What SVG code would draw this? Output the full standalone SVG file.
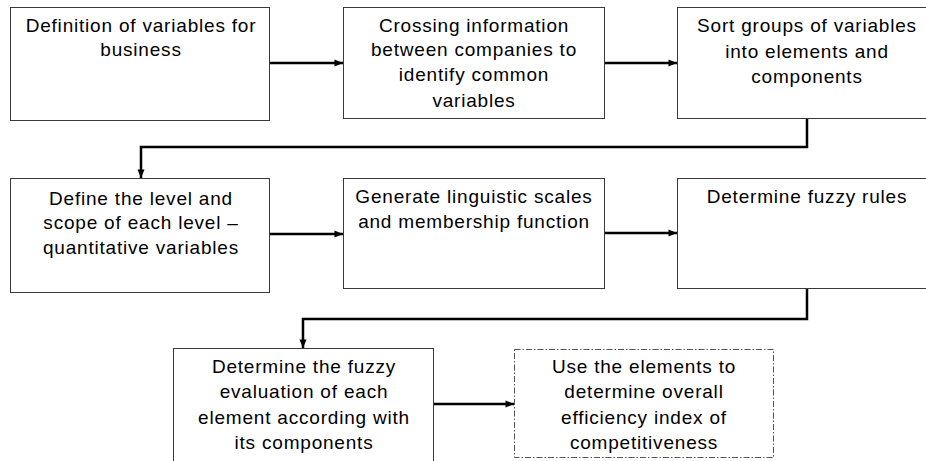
<svg xmlns="http://www.w3.org/2000/svg" width="926" height="461" viewBox="0 0 926 461">
<defs>
<marker id="ah" markerUnits="userSpaceOnUse" markerWidth="10" markerHeight="10" viewBox="0 0 10 10" refX="9" refY="5" orient="auto">
<path d="M0.5,1.5 L9,5 L0.5,8.5 Z" fill="#000"/>
</marker>
<style>
.box{fill:#fff;stroke:#3a3a3a;stroke-width:1}
.dash{fill:#fff;stroke:#555;stroke-width:1;stroke-dasharray:6 2 1.5 2}
.t{font-family:"Liberation Sans",Arial,sans-serif;font-size:19px;letter-spacing:0.8px;fill:#000;text-anchor:middle}
.c{fill:none;stroke:#000;stroke-width:2.5;marker-end:url(#ah)}
</style>
</defs>
<rect width="926" height="461" fill="#fff"/>
<g id="connectors">
<path class="c" d="M269 63 H343"/>
<path class="c" d="M604 63 H677"/>
<path class="c" d="M807 118 V147 H141 V178"/>
<path class="c" d="M269 234 H343"/>
<path class="c" d="M604 233 H677"/>
<path class="c" d="M807 288 V319 H303 V348"/>
<path class="c" d="M433 404 H514"/>
</g>
<g id="n1">
<rect class="box" x="10.5" y="7.5" width="259" height="113"/>
<text class="t" x="141" y="32">Definition of variables for</text>
<text class="t" x="141" y="56">business</text>
</g>
<g id="n2">
<rect class="box" x="343.5" y="7.5" width="261" height="111"/>
<text class="t" x="474" y="32">Crossing information</text>
<text class="t" x="474" y="56">between companies to</text>
<text class="t" x="474" y="81">identify common</text>
<text class="t" x="474" y="107">variables</text>
</g>
<g id="n3">
<rect class="box" x="677.5" y="7.5" width="260" height="111"/>
<text class="t" x="807" y="32">Sort groups of variables</text>
<text class="t" x="807" y="58">into elements and</text>
<text class="t" x="807" y="83">components</text>
</g>
<g id="n4">
<rect class="box" x="10.5" y="178.5" width="259" height="114"/>
<text class="t" x="141" y="205">Define the level and</text>
<text class="t" x="141" y="229">scope of each level –</text>
<text class="t" x="141" y="254">quantitative variables</text>
</g>
<g id="n5">
<rect class="box" x="343.5" y="178.5" width="261" height="110"/>
<text class="t" x="474" y="203">Generate linguistic scales</text>
<text class="t" x="474" y="228">and membership function</text>
</g>
<g id="n6">
<rect class="box" x="677.5" y="178.5" width="260" height="110"/>
<text class="t" x="807" y="203">Determine fuzzy rules</text>
</g>
<g id="n7">
<rect class="box" x="173.5" y="348.5" width="260" height="130"/>
<text class="t" x="304" y="373">Determine the fuzzy</text>
<text class="t" x="304" y="398">evaluation of each</text>
<text class="t" x="304" y="424">element according with</text>
<text class="t" x="304" y="449">its components</text>
</g>
<g id="n8">
<rect class="dash" x="514.5" y="349.5" width="259" height="108"/>
<text class="t" x="644" y="373">Use the elements to</text>
<text class="t" x="644" y="398">determine overall</text>
<text class="t" x="644" y="424">efficiency index of</text>
<text class="t" x="644" y="449">competitiveness</text>
</g>
</svg>
